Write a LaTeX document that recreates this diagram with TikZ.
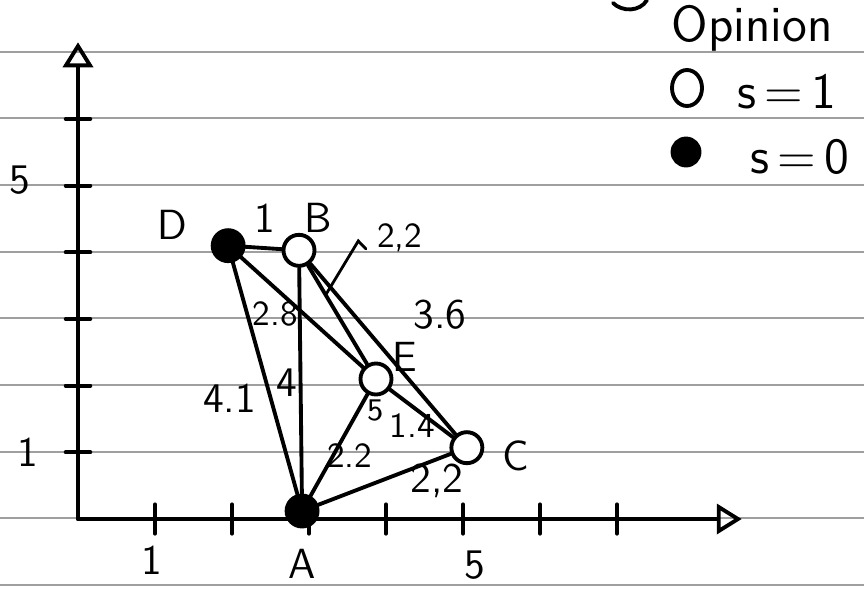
\documentclass[tikz,border=0pt]{standalone}
\usetikzlibrary{arrows.meta,positioning,shapes.geometric}
\begin{document}
\begin{tikzpicture}[line width=1.1pt, line cap=round, font=\sffamily\large,
  vtx/.style={circle, draw, minimum size=0.31cm, inner sep=0pt},
  sone/.style={vtx, fill=white},
  szero/.style={vtx, fill=black},
  wt/.style={font=\sffamily\large},
  small wt/.style={font=\sffamily},
  axtip/.style={-{Triangle[open,length=0.25cm,width=0.3cm]}}]
  \useasboundingbox (0,0) rectangle (8.64,5.88);
  % ruled paper
  \foreach \k in {0,...,8}
    \draw[gray!75, line width=0.6pt] (0,{5.363-0.6667*\k}) -- (8.64,{5.363-0.6667*\k});
  % scraps of the line above
  \draw (6.13,5.85) .. controls (6.22,5.76) and (6.40,5.76) .. (6.47,5.88);
  \begin{scope}[shift={(0.78,0.69)}, x=0.77cm, y=0.6667cm]
    % axes
    \coordinate (O) at (0,0);
    \coordinate (xend) at (8.62,0);
    \coordinate (yend) at (0,7.15);
    \draw[axtip] (O) -- (xend);
    \draw[axtip] (O) -- (yend);
    \foreach \i in {1,...,7}
      \draw (\i,-0.22) -- (\i,0.22);
    \foreach \j in {1,...,6}
      \draw (-0.16,\j) -- (0.16,\j);
    \node[wt] at (-0.75,5.08) {5};
    \node[wt] at (-0.65,1.0) {1};
    \node[wt] at (0.96,-0.62) {1};
    \node[wt] at (5.15,-0.69) {5};
    % agents
    \node[szero] (D) at (1.95,4.1) {};
    \node[sone] (B) at (2.87,4.03) {};
    \node[sone] (E) at (3.87,2.1) {};
    \node[sone] (C) at (5.05,1.07) {};
    \node[szero] (A) at (2.91,0.12) {};
    \node[wt] at (1.22,4.41) {D};
    \node[wt] at (3.12,4.52) {B};
    \node[wt] at (4.24,2.43) {E};
    \node[wt] at (5.68,0.95) {C};
    \node[wt] at (2.91,-0.67) {A};
    % links
    \draw (D) -- (B);
    \draw (D) -- (A);
    \draw (D) -- (E);
    \draw (B) -- (A);
    \draw (B) -- coordinate[pos=0.3] (be) (E);
    \draw (B) -- (C);
    \draw (E) -- (C);
    \draw (A) -- (E);
    \draw (A) -- (C);
    % distances
    \node[wt] at (2.43,4.51) {1};
    \node[wt] at (1.97,1.81) {4.1};
    \node[wt] at (2.71,2.05) {4};
    \node[small wt] at (2.56,3.08) {2.8};
    \node[small wt] (lbe) at (4.18,4.22) {2,2};
    \coordinate (hook) at (3.64,4.17);
    \draw[line width=0.8pt] (be) -- (hook) -- ++(0.1,-0.12);
    \node[wt] at (4.70,3.07) {3.6};
    \node[small wt] at (4.34,1.40) {1.4};
    \node[small wt] at (3.53,0.95) {2.2};
    \node[wt] at (4.66,0.57) {2,2};
    \node[font=\sffamily\small] at (3.86,1.63) {5};
  \end{scope}
  % legend
  \node[draw, fill=white, ellipse, minimum width=0.3cm, minimum height=0.36cm, inner sep=0pt] (l1) at (6.87,5.0) {};
  \node[font=\sffamily\Large] at (7.52,5.60) {Opinion};
  \node[font=\sffamily\Large] at (7.87,4.96) {s\,=\,1};
  \node[szero, minimum size=0.27cm] (l0) at (6.86,4.36) {};
  \node[font=\sffamily\Large] at (8.0,4.31) {s\,=\,0};
\end{tikzpicture}
\end{document}
